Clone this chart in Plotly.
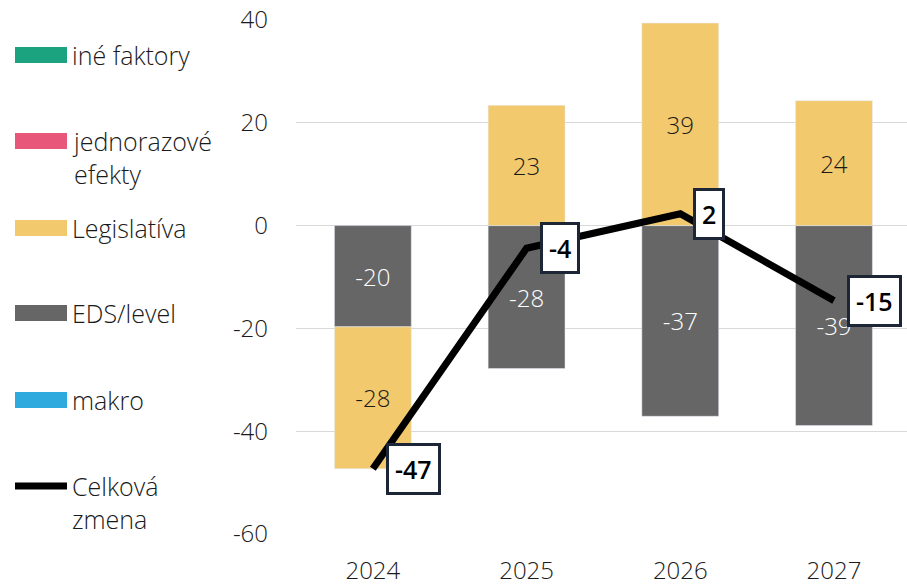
import plotly.graph_objects as go

years = ["2024", "2025", "2026", "2027"]
eds_level = [-19.7, -27.8, -37.1, -38.9]
legislativa = [-27.6, 23.4, 39.4, 24.3]
celkova_zmena = [-47.3, -4.4, 2.3, -14.6]
y_ticks = [40, 20, 0, -20, -40, -60]
y_tick_text = ["40", "20", "0", "-20", "-40", "-60"]

legend_items = ["iné faktory", "jednorazové<br>efekty", "Legislatíva", "EDS/level", "makro", "Celková<br>zmena"]
legend_colors = ["#1ba37f", "#e8577a", "#f2c96d", "#666666", "#2eaadf", "#000000"]

FONT = "Open Sans"
W, H = 907, 586
L, R, T, B = 296, 0, 20, 52
PW, PH = W - L - R, H - T - B


def px(x):
    return (x - L) / PW


def py(y):
    return (H - B - y) / PH


fig = go.Figure()
fig.add_trace(go.Bar(
    x=years, y=eds_level, name="EDS/level", marker_color="#666666",
    text=eds_level, texttemplate="%{y:.0f}", textposition="inside",
    insidetextanchor="middle", textangle=0,
    textfont=dict(family=FONT, size=24, color="white", weight=300), showlegend=False,
))
fig.add_trace(go.Bar(
    x=years, y=legislativa, name="Legislatíva", marker_color="#f2c96d",
    text=legislativa, texttemplate="%{y:.0f}", textposition="inside",
    insidetextanchor="middle", textangle=0,
    textfont=dict(family=FONT, size=24, color="#1a1a1a", weight=300), showlegend=False,
))
fig.add_trace(go.Scatter(
    x=years, y=celkova_zmena, mode="lines", name="Celková zmena",
    line=dict(color="black", width=7), showlegend=False,
))

annotations = []
for i, v in enumerate(celkova_zmena):
    annotations.append(dict(
        x=i, y=v, xref="x", yref="y", text=f"{v:.0f}", showarrow=False,
        xanchor="left", yanchor="middle", xshift=13, yshift=0,
        font=dict(family=FONT, size=25, color="black", weight=600),
        bgcolor="white", bordercolor="#1c2636", borderwidth=3, borderpad=6,
    ))

shapes = []
rows = [55, 141, 228, 313, 400, 486]
for i, (lab, col) in enumerate(zip(legend_items, legend_colors)):
    yc = rows[i]
    if i < 5:
        shapes.append(dict(type="rect", xref="paper", yref="paper",
                           x0=px(15), x1=px(67), y0=py(yc + 8), y1=py(yc - 8),
                           fillcolor=col, line=dict(width=0)))
    else:
        shapes.append(dict(type="line", xref="paper", yref="paper",
                           x0=px(15), x1=px(67), y0=py(yc), y1=py(yc),
                           line=dict(color=col, width=7)))
    annotations.append(dict(
        x=px(70), y=py(yc - 19), xref="paper", yref="paper", text=lab,
        showarrow=False, xanchor="left", yanchor="top", align="left",
        font=dict(family=FONT, size=25, color="#1a1a1a", weight=300),
    ))

fig.update_layout(
    width=W, height=H, margin=dict(l=L, r=R, t=T, b=B, autoexpand=False),
    barmode="relative", bargap=0.5,
    plot_bgcolor="white", paper_bgcolor="white",
    font=dict(family=FONT, size=24, color="#1a1a1a"),
    xaxis=dict(type="category", range=[-0.5, 3.475], showgrid=False, automargin=False,
               showline=False, zeroline=False, ticks="", ticklabelstandoff=20,
               tickfont=dict(family=FONT, size=24, color="#1a1a1a", weight=300)),
    yaxis=dict(range=[-60, 40], tickvals=y_ticks, ticktext=y_tick_text,
               showgrid=True, automargin=False,
               gridcolor="#d9d9d9", gridwidth=1.2, zeroline=False, showline=False,
               ticks="", ticklabelstandoff=27,
               tickfont=dict(family=FONT, size=24, color="#1a1a1a", weight=300)),
    annotations=annotations, shapes=shapes, showlegend=False,
)

fig.write_html("out.html", config={"displayModeBar": False},
               post_script="document.body.style.margin='0';")
